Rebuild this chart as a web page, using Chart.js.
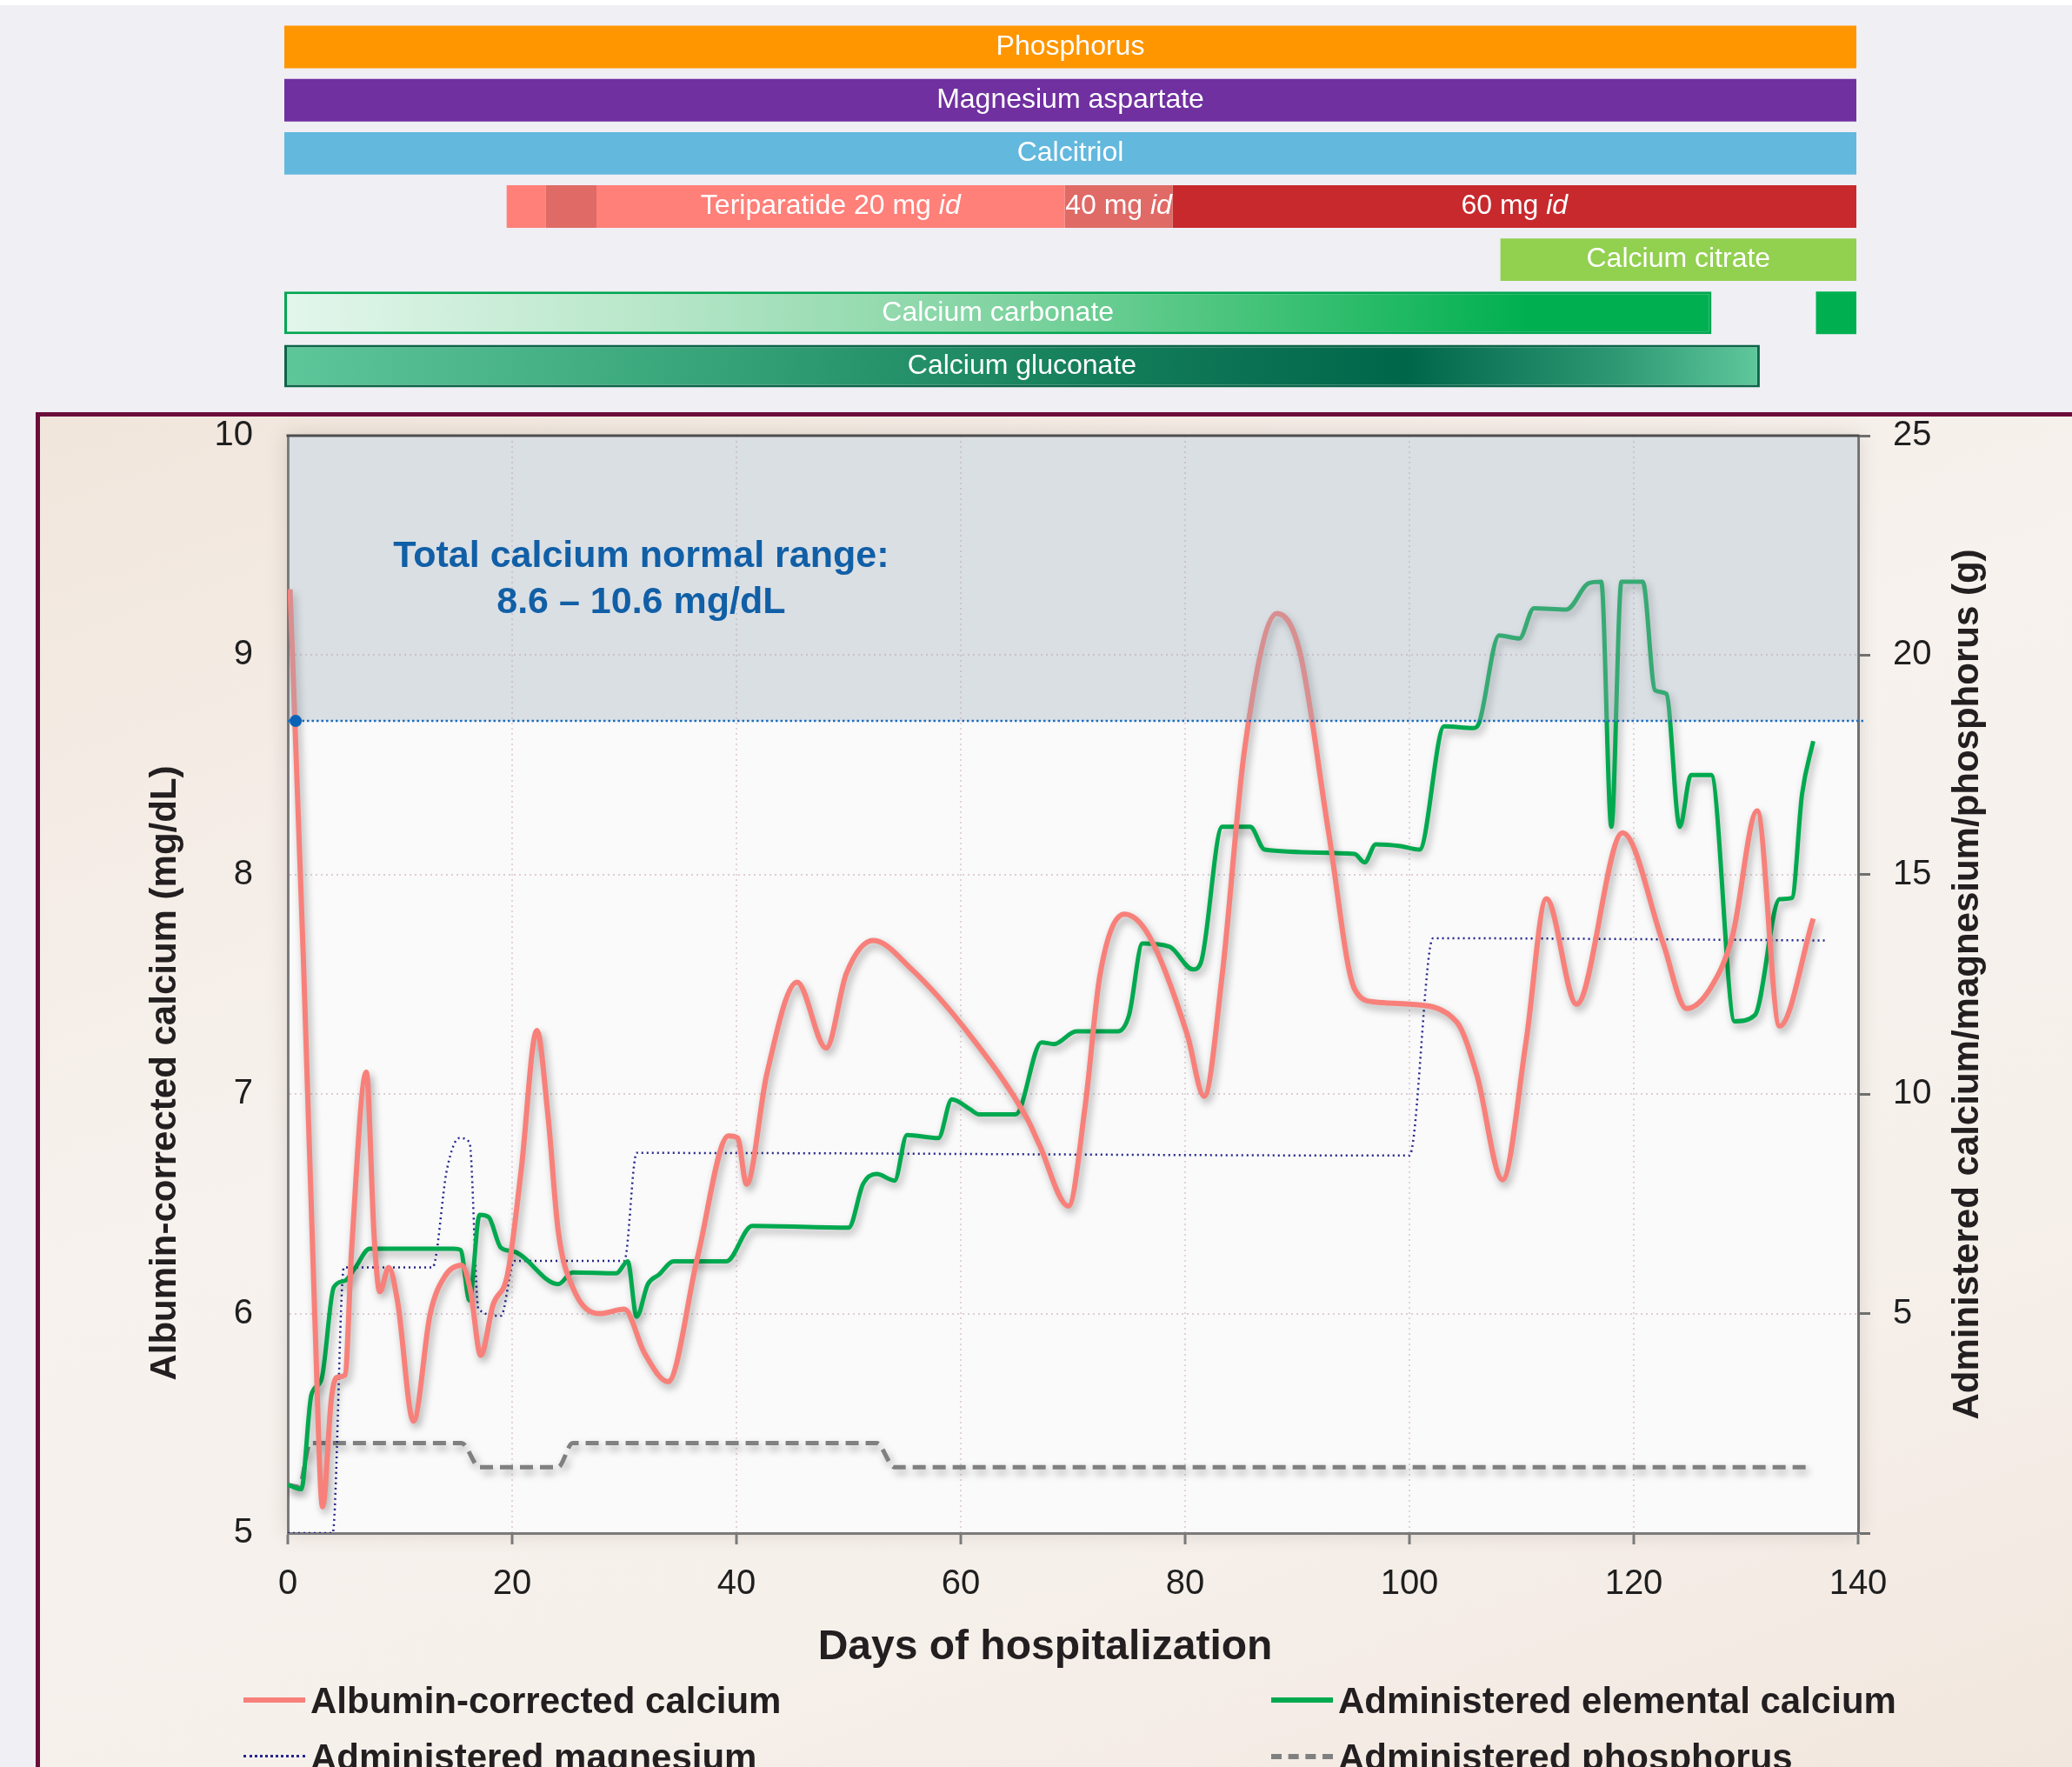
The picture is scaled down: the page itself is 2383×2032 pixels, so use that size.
<!DOCTYPE html>
<html>
<head>
<meta charset="utf-8">
<title>Calcium during hospitalization</title>
<script src="https://cdn.jsdelivr.net/npm/chart.js@4.4.1/dist/chart.umd.min.js"></script>
<style>
  html, body { margin: 0; padding: 0; }
  body {
    width: 2383px; height: 2032px; overflow: hidden; position: relative;
    background: #f0eff4; font-family: "Liberation Sans", Arial, sans-serif;
  }
  .topline { position: absolute; left: 0; top: 0; width: 2383px; height: 6px; background: #fff; }
  #drugChart { position: absolute; left: 0; top: 0; }
  .panel {
    position: absolute; left: 41px; top: 474px; width: 2400px; height: 1600px;
    border: 5px solid #6b0d3b; box-sizing: border-box;
    background: linear-gradient(160deg, #f1e6dc 0%, #f7f2ee 40%, #f6f0eb 70%, #f1e6dd 100%);
  }
  #mainChart { position: absolute; left: 46px; top: 479px; }
  .legend-item {
    position: absolute; font: bold 42px "Liberation Sans", Arial, sans-serif;
    color: #231f20; line-height: 50px; white-space: nowrap;
  }
  .swatch { display: inline-block; width: 71px; height: 0; vertical-align: middle; margin-right: 6px; position: relative; top: -4px; }
</style>
</head>
<body>
<div class="topline"></div>
<canvas id="drugChart" width="2383" height="470"></canvas>
<div class="panel"></div>
<canvas id="mainChart" width="2337" height="1553"></canvas>
<div id="legend"></div>

<script>
// ---- treatment bars (days of hospitalization) ----
const drugRows = ["Phosphorus", "Magnesium aspartate", "Calcitriol", "Teriparatide",
  "Calcium citrate", "Calcium carbonate", "Calcium gluconate"];
const segRow  = [0, 1, 2, 3, 3, 3, 3, 3, 4, 5, 5, 6];
const segFrom = [0, 0, 0, 19.8, 23.3, 27.8, 69.5, 79.1, 108.3, 0, 136.4, 0];
const segTo   = [140, 140, 140, 23.3, 27.8, 69.5, 79.1, 140, 140, 127.1, 140, 131.4];
const segText = ["Phosphorus", "Magnesium aspartate", "Calcitriol", "", "",
  "Teriparatide 20 mg ", "40 mg ", "60 mg ", "Calcium citrate", "Calcium carbonate", "", "Calcium gluconate"];
const segItalic = ["", "", "", "", "", "id", "id", "id", "", "", "", ""];

// ---- lab values and doses ----
const calciumDays = [0.2, 1.4, 2.4, 3.1, 3.9, 4.4, 5.1, 5.7, 7.0, 7.7, 8.2, 9.0, 9.8, 11.2, 12.7, 14.0,
  15.5, 16.3, 17.2, 18.3, 19.6, 20.8, 22.2, 23.2, 24.1, 25.4, 27.8, 30.0, 31.8, 33.9, 36.5, 39.3,
  40.1, 40.9, 42.7, 45.4, 48.0, 49.8, 52.2, 55.6, 60.8, 65.9, 67.0, 69.6, 71.1, 72.4, 74.6, 76.8,
  80.2, 81.7, 83.3, 85.3, 88.2, 90.2, 92.8, 95.1, 96.9, 100.0, 104.2, 106.0, 108.3, 110.4, 112.2,
  114.9, 119.0, 122.6, 124.7, 126.8, 128.8, 131.0, 133.0, 136.0];
const calciumValues = [9.30, 7.60, 6.00, 5.12, 5.62, 5.71, 5.72, 6.30, 7.10, 6.35, 6.10, 6.21, 6.05, 5.51, 6.00, 6.17,
  6.22, 6.10, 5.81, 6.04, 6.18, 6.65, 7.29, 6.90, 6.38, 6.12, 6.00, 6.02, 5.82, 5.69, 6.25, 6.81,
  6.80, 6.59, 7.09, 7.51, 7.21, 7.55, 7.70, 7.57, 7.27, 6.89, 6.77, 6.49, 6.95, 7.54, 7.82, 7.72,
  7.27, 6.99, 7.54, 8.57, 9.19, 9.02, 8.19, 7.48, 7.42, 7.41, 7.33, 7.09, 6.61, 7.24, 7.89,
  7.41, 8.19, 7.69, 7.39, 7.48, 7.72, 8.29, 7.31, 7.80];

const elementalDays = [0, 1.2, 2.1, 3.0, 4.1, 5.1, 6.0, 7.3, 14.8, 15.4, 16.2, 17.1, 17.9, 19.0, 20.2,
  24.1, 25.4, 29.3, 30.3, 31.1, 32.1, 33.1, 34.4, 39.1, 41.4, 50.0, 51.3, 52.5, 54.1, 55.2, 58.0,
  59.2, 60.8, 61.6, 64.9, 67.2, 68.3, 70.3, 74.0, 75.0, 76.2, 78.6, 80.7, 81.4, 83.3, 85.8, 87.1,
  95.1, 96.0, 97.0, 99.2, 100.9, 103.1, 105.7, 106.2, 108.0, 109.8, 111.1, 114.0, 116.0, 117.1,
  118.0, 118.9, 120.8, 121.9, 122.9, 124.1, 125.1, 126.9, 129.0, 130.8, 133.0, 134.1, 135.0, 136.0];
const elementalGrams = [1.10, 1.00, 3.15, 3.50, 5.60, 5.75, 6.04, 6.48, 6.48, 6.45, 5.30, 7.25, 7.20, 6.50, 6.41,
  5.67, 5.94, 5.92, 6.19, 4.93, 5.67, 5.89, 6.19, 6.19, 7.00, 6.96, 7.96, 8.18, 8.03, 9.07, 9.00,
  9.88, 9.66, 9.54, 9.54, 11.18, 11.14, 11.43, 11.43, 11.80, 13.43, 13.36, 12.84, 12.99, 16.09, 16.09, 15.57,
  15.47, 15.28, 15.69, 15.65, 15.57, 18.38, 18.34, 18.45, 20.45, 20.38, 21.07, 21.04, 21.64, 21.67,
  16.09, 21.67, 21.67, 19.20, 19.12, 16.09, 17.27, 17.27, 11.66, 11.80, 14.44, 14.47, 16.83, 18.04];

const magnesiumDays = [0, 4.0, 5.0, 12.9, 14.2, 15.3, 16.2, 17.0, 19.0, 20.2, 30.0, 31.1, 100.0, 102.1, 137.1];
const magnesiumGrams = [0, 0, 6.05, 6.05, 8.3, 9.0, 8.9, 5.1, 4.95, 6.2, 6.2, 8.66, 8.6, 13.55, 13.5];

const phosphorusDays = [0, 1.0, 2.0, 15.5, 17.1, 24.1, 25.4, 52.5, 54.1, 135.8];
const phosphorusGrams = [1.1, 1.05, 2.05, 2.05, 1.5, 1.5, 2.05, 2.05, 1.5, 1.5];

const dayTicks = [0, 20, 40, 60, 80, 100, 120, 140];
const calciumTicks = [5, 6, 7, 8, 9, 10];
const gramTicks = [0, 5, 10, 15, 20, 25];

const normalLow = 8.7;
const normalDotDay = 0.7;
const rangeNote = ["Total calcium normal range:", "8.6 \u2013 10.6 mg/dL"];
const noteDay = 31.5;
const noteLevels = [9.45, 9.24];
const xTitle = "Days of hospitalization";
const leftTitle = "Albumin-corrected calcium (mg/dL)";
const rightTitle = "Administered calcium/magnesium/phosphorus (g)";

const FONT = '"Liberation Sans", Arial, sans-serif';
Chart.defaults.font.family = FONT;
Chart.defaults.color = "#231f20";

// ---------- treatment bars ----------
const SEG_COLORS = ["#ff9600", "#7030a0", "#63b8de", "#ff7f79", "#df6a66", "#ff7f79",
  "#df6a66", "#c8292d", "#92d050", "carbonate", "#00b050", "gluconate"];
const GRADIENTS = {
  carbonate: [[0, "#e3f6ec"], [0.25, "#b9e7ca"], [0.5, "#82d4a2"], [0.72, "#36bf70"], [0.87, "#00b050"], [1, "#00b050"]],
  gluconate: [[0, "#5ec79a"], [0.3, "#35a277"], [0.55, "#147e5a"], [0.76, "#00664a"], [0.9, "#2c9772"], [1, "#5fc89c"]],
};

function segFill(k) {
  const name = SEG_COLORS[k];
  if (!GRADIENTS[name]) return name;
  return (c) => {
    const chart = c.chart;
    if (!chart.chartArea) return "#5fc48a";
    const x = chart.scales.x;
    const g = chart.ctx.createLinearGradient(x.getPixelForValue(segFrom[k]), 0, x.getPixelForValue(segTo[k]), 0);
    GRADIENTS[name].forEach(([p, col]) => g.addColorStop(p, col));
    return g;
  };
}

const segBorder = { carbonate: ["#00a651", 3], gluconate: ["#0d6548", 3] };

const drugDatasets = segRow.map((row, k) => {
  const b = segBorder[SEG_COLORS[k]];
  return {
    data: drugRows.map((_, i) => (i === row ? [segFrom[k], segTo[k]] : null)),
    backgroundColor: segFill(k),
    borderColor: b ? b[0] : "rgba(0,0,0,0)",
    borderWidth: b ? b[1] : 0,
    borderSkipped: false,
    grouped: false,
    categoryPercentage: 1,
    barPercentage: 0.8,
  };
});

const barLabels = {
  id: "barLabels",
  afterDatasetsDraw(chart) {
    const ctx = chart.ctx;
    ctx.save();
    ctx.fillStyle = "#ffffff";
    ctx.textBaseline = "middle";
    ctx.textAlign = "left";
    segText.forEach((txt, k) => {
      if (!txt) return;
      const el = chart.getDatasetMeta(k).data[segRow[k]];
      const cx = (el.x + el.base) / 2;
      const normal = "32px " + FONT;
      const italic = "italic 32px " + FONT;
      ctx.font = normal;
      const w1 = ctx.measureText(txt).width;
      ctx.font = italic;
      const w2 = segItalic[k] ? ctx.measureText(segItalic[k]).width : 0;
      const x = cx - (w1 + w2) / 2;
      ctx.font = normal;
      ctx.fillText(txt, x, el.y);
      if (segItalic[k]) {
        ctx.font = italic;
        ctx.fillText(segItalic[k], x + w1, el.y);
      }
    });
    ctx.restore();
  },
};

new Chart(document.getElementById("drugChart"), {
  type: "bar",
  data: { labels: drugRows, datasets: drugDatasets },
  options: {
    indexAxis: "y",
    responsive: false,
    animation: false,
    layout: { padding: { left: 327, right: 248, top: 23.5, bottom: 18.5 } },
    plugins: { legend: { display: false }, tooltip: { enabled: false } },
    scales: {
      x: { type: "linear", min: 0, max: 140, display: false },
      y: { display: false },
    },
  },
  plugins: [barLabels],
});

// ---------- main chart ----------
const xy = (xs, ys) => xs.map((x, i) => ({ x, y: ys[i] }));
const setTicks = (vals) => (s) => { s.ticks = vals.map((v) => ({ value: v })); };
const hideEdges = (lo, hi, col) => (c) =>
  c.tick && (c.tick.value === lo || c.tick.value === hi) ? "rgba(0,0,0,0)" : col;
const fixWidth = (w) => (s) => { s.width = w; s.paddingTop = 0; s.paddingBottom = 0; };

function drawTitle(ctx, text, x, y, size, angle) {
  ctx.save();
  ctx.translate(x, y);
  ctx.rotate(angle);
  ctx.font = "bold " + size + "px " + FONT;
  ctx.fillStyle = "#231f20";
  ctx.textAlign = "center";
  ctx.textBaseline = "middle";
  ctx.fillText(text, 0, 0);
  ctx.restore();
}

const plotDecor = {
  id: "plotDecor",
  beforeDraw(chart) {
    const { ctx, chartArea: a } = chart;
    ctx.save();
    ctx.shadowColor = "rgba(80,60,50,0.18)";
    ctx.shadowBlur = 22;
    ctx.fillStyle = "#fafafa";
    ctx.fillRect(a.left, a.top, a.right - a.left, a.bottom - a.top);
    ctx.restore();
  },
  beforeDatasetDraw(chart, args) {
    const ctx = chart.ctx;
    ctx.save();
    if (chart.data.datasets[args.index].shadow) {
      ctx.shadowColor = "rgba(0,0,0,0.33)";
      ctx.shadowBlur = 10;
      ctx.shadowOffsetX = 3;
      ctx.shadowOffsetY = 5;
    }
  },
  afterDatasetDraw(chart) {
    chart.ctx.restore();
  },
  afterDatasetsDraw(chart) {
    const { ctx, chartArea: a, scales } = chart;
    const yLow = scales.y.getPixelForValue(normalLow);
    ctx.save();
    // normal range band
    ctx.fillStyle = "rgba(159,173,187,0.35)";
    ctx.fillRect(a.left + 1.5, a.top, a.right - a.left - 1.5, yLow - a.top);
    ctx.strokeStyle = "#1b6ec0";
    ctx.lineWidth = 2.5;
    ctx.setLineDash([2.5, 3]);
    ctx.beginPath();
    ctx.moveTo(a.left, yLow);
    ctx.lineTo(a.right + 8, yLow);
    ctx.stroke();
    ctx.setLineDash([]);
    ctx.fillStyle = "#0b63b6";
    ctx.beginPath();
    ctx.arc(scales.x.getPixelForValue(normalDotDay), yLow, 7, 0, Math.PI * 2);
    ctx.fill();
    // annotation
    ctx.fillStyle = "#115fa6";
    ctx.font = "bold 43px " + FONT;
    ctx.textAlign = "center";
    ctx.textBaseline = "middle";
    rangeNote.forEach((t, i) =>
      ctx.fillText(t, scales.x.getPixelForValue(noteDay), scales.y.getPixelForValue(noteLevels[i])));
    ctx.restore();
  },
  afterDraw(chart) {
    const { ctx, chartArea: a } = chart;
    ctx.save();
    ctx.strokeStyle = "#4d4d4d";
    ctx.lineWidth = 3;
    ctx.beginPath();
    ctx.moveTo(a.left - 1.5, a.top);
    ctx.lineTo(a.right + 1.5, a.top);
    ctx.stroke();
    ctx.restore();
    const midY = (a.top + a.bottom) / 2;
    drawTitle(ctx, xTitle, (a.left + a.right) / 2 - 32, a.bottom + 132, 48, 0);
    drawTitle(ctx, leftTitle, a.left - 141, midY + 102, 42, -Math.PI / 2);
    drawTitle(ctx, rightTitle, a.right + 126, midY, 42, -Math.PI / 2);
  },
};

const mainChart = new Chart(document.getElementById("mainChart"), {
  type: "line",
  data: {
    datasets: [
      {
        label: "Albumin-corrected calcium",
        data: xy(calciumDays, calciumValues),
        yAxisID: "y",
        borderColor: "#f8807a",
        borderWidth: 6,
        shadow: true,
      },
      {
        label: "Administered elemental calcium",
        data: xy(elementalDays, elementalGrams),
        yAxisID: "y2",
        borderColor: "#00a94f",
        borderWidth: 5,
        shadow: true,
      },
      {
        label: "Administered magnesium",
        data: xy(magnesiumDays, magnesiumGrams),
        yAxisID: "y2",
        borderColor: "#25258e",
        borderWidth: 2.5,
        borderDash: [2, 4],
      },
      {
        label: "Administered phosphorus",
        data: xy(phosphorusDays, phosphorusGrams),
        yAxisID: "y2",
        borderColor: "#808080",
        borderWidth: 5,
        borderDash: [15, 8],
        shadow: true,
      },
    ],
  },
  options: {
    responsive: false,
    animation: false,
    elements: { point: { radius: 0 }, line: { cubicInterpolationMode: "monotone", fill: false } },
    layout: { padding: { left: 0, right: 0, top: 22, bottom: 105 } },
    plugins: { legend: { display: false }, tooltip: { enabled: false } },
    scales: {
      x: {
        type: "linear", min: 0, max: 140,
        afterBuildTicks: setTicks(dayTicks),
        afterFit: (s) => { s.height = 164; },
        grid: { color: hideEdges(0, 140, "#e3d2d8"), lineWidth: 2, tickColor: "#7a7a7a", tickLength: 13, tickWidth: 3 },
        border: { color: "#7a7a7a", width: 3, dash: [2, 4] },
        ticks: { font: { size: 40, lineHeight: 1 }, padding: 26, color: "#1f1f1f" },
      },
      y: {
        position: "left", min: 5, max: 10,
        afterBuildTicks: setTicks(calciumTicks),
        afterFit: fixWidth(285),
        grid: { color: hideEdges(5, 10, "#dfcdd3"), lineWidth: 2, drawTicks: false },
        border: { color: "#7a7a7a", width: 3, dash: [2, 4] },
        ticks: { font: { size: 40, lineHeight: 1 }, padding: 40, color: "#1f1f1f" },
      },
      y2: {
        position: "right", min: 0, max: 25,
        afterBuildTicks: setTicks(gramTicks),
        afterFit: fixWidth(246),
        grid: { drawOnChartArea: false, tickColor: "#6f6f6f", tickLength: 14, tickWidth: 3 },
        border: { color: "#6f6f6f", width: 3 },
        ticks: { font: { size: 40, lineHeight: 1 }, padding: 26, color: "#1f1f1f",
          callback: (v) => (v === 0 ? "" : v) },
      },
    },
  },
  plugins: [plotDecor],
});

// ---------- legend ----------
const legendLeft = [280, 1462];
const legendMid = [1956, 2021];
function renderLegend() {
  const box = document.getElementById("legend");
  box.innerHTML = mainChart.data.datasets
    .map((d, i) => {
      const dotted = d.borderDash && d.borderDash[0] < 4;
      const style = d.borderDash ? (dotted ? "dotted" : "dashed") : "solid";
      const w = dotted ? 3 : 6;
      return `<div class="legend-item" style="left:${legendLeft[i % 2]}px;top:${legendMid[Math.floor(i / 2)] - 25}px">
        <span class="swatch" style="border-top:${w}px ${style} ${d.borderColor}"></span>${d.label}</div>`;
    })
    .join("");
}
renderLegend();
</script>
</body>
</html>
